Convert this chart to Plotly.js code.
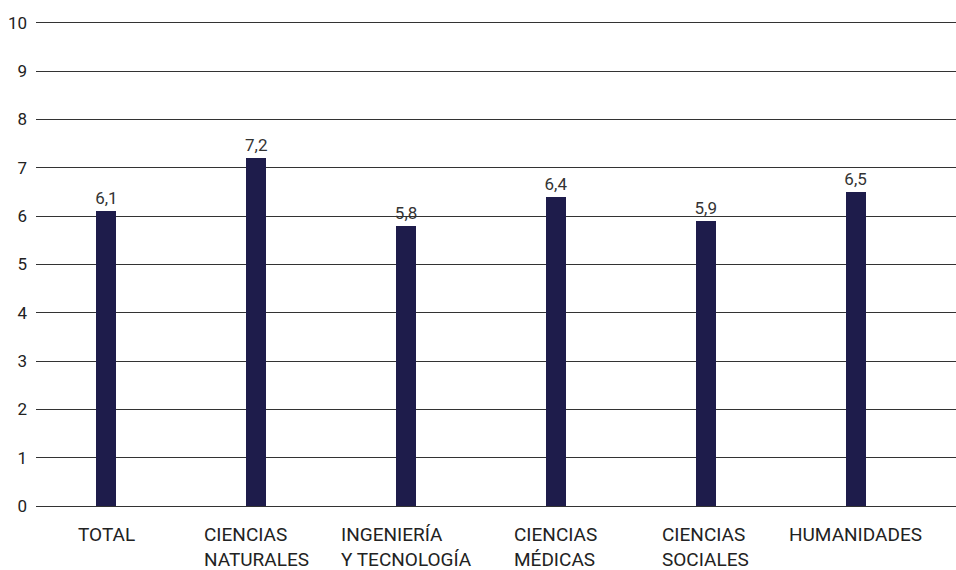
<!DOCTYPE html>
<html>
<head>
<meta charset="utf-8">
<script src="https://cdn.plot.ly/plotly-3.0.1.min.js"></script>
<style>html,body{margin:0;padding:0;background:#fff;}</style>
</head>
<body>
<div id="chart" style="width:956px;height:570px;"></div>
<script>
var categories = ["TOTAL", "CIENCIAS NATURALES", "INGENIERÍA Y TECNOLOGÍA", "CIENCIAS MÉDICAS", "CIENCIAS SOCIALES", "HUMANIDADES"];
var tickLabels = ["TOTAL", "CIENCIAS<br>NATURALES", "INGENIERÍA<br>Y TECNOLOGÍA", "CIENCIAS<br>MÉDICAS", "CIENCIAS<br>SOCIALES", "HUMANIDADES"];
var values = [6.1, 7.2, 5.8, 6.4, 5.9, 6.5];

var FONT = "Roboto, 'DejaVu Sans', sans-serif";
var TEXT = "#222222";

var trace = {
  type: "bar",
  x: categories,
  y: values,
  width: 0.133,
  marker: { color: "#1e1c4b", line: { width: 0 } },
  texttemplate: "%{y:.1f}",
  textposition: "outside",
  constraintext: "none",
  cliponaxis: false,
  textfont: { family: FONT, size: 17, color: "#333333" },
  hoverinfo: "skip"
};

var annotations = categories.map(function (c, i) {
  return {
    x: c, xref: "x",
    y: 0, yref: "paper",
    yanchor: "top", xanchor: "center",
    yshift: -15,
    align: "left",
    showarrow: false,
    text: tickLabels[i],
    font: { family: FONT, size: 19, color: TEXT }
  };
});

var layout = {
  width: 956, height: 570,
  margin: { l: 36, r: 0, t: 18, b: 64, pad: 0 },
  paper_bgcolor: "#ffffff",
  plot_bgcolor: "#ffffff",
  separators: ",.",
  showlegend: false,
  font: { family: FONT, color: TEXT },
  bargap: 0,
  xaxis: {
    type: "category",
    range: [-0.47, 5.67],
    showticklabels: false,
    showgrid: false,
    zeroline: false,
    showline: false,
    ticks: "",
    fixedrange: true
  },
  yaxis: {
    range: [0, 10.1],
    tickvals: [0, 1, 2, 3, 4, 5, 6, 7, 8, 9, 10],
    showgrid: true,
    gridcolor: "#333333",
    gridwidth: 1,
    zeroline: true,
    zerolinecolor: "#333333",
    zerolinewidth: 1,
    showline: false,
    ticks: "",
    ticklabelstandoff: 8,
    tickfont: { family: FONT, size: 17, color: TEXT },
    fixedrange: true
  },
  annotations: annotations
};

Plotly.newPlot("chart", [trace], layout, { displayModeBar: false, staticPlot: true });
</script>
</body>
</html>
